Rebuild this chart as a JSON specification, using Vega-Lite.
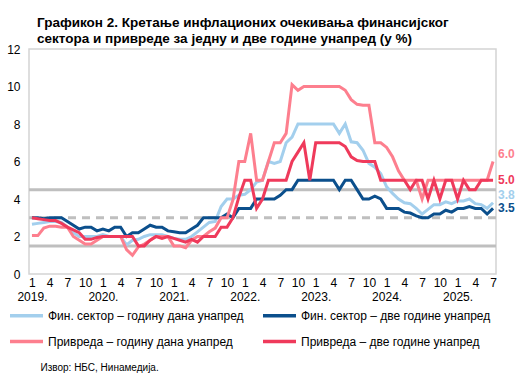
{
  "$schema": "https://vega.github.io/schema/vega-lite/v6.json",
  "width": 467,
  "height": 225,
  "autosize": "none",
  "padding": {"left": 29, "top": 49, "right": 24, "bottom": 101},
  "config": {
    "font": "Liberation Sans",
    "view": {"stroke": "#d4d4d4", "strokeWidth": 1.5}
  },
  "title": {
    "text": ["Графикон 2. Кретање инфлационих очекивања финансијског", "сектора и привреде за једну и две године унапред (у %)"],
    "anchor": "start",
    "frame": "group",
    "dx": 8,
    "offset": -2,
    "fontSize": 13.5,
    "fontWeight": "bold",
    "lineHeight": 16,
    "color": "#000000"
  },
  "resolve": {"axis": {"y": "independent"}},
  "data": {
    "values": [
      {"d": "2019-01", "fy": 2.65, "fd": 3.0, "py": 2.05, "pd": 3.0},
      {"d": "2019-02", "fy": 2.7, "fd": 3.0, "py": 2.05, "pd": 2.95},
      {"d": "2019-03", "fy": 2.75, "fd": 2.95, "py": 2.45, "pd": 2.9},
      {"d": "2019-04", "fy": 2.8, "fd": 3.0, "py": 2.55, "pd": 2.85},
      {"d": "2019-05", "fy": 2.8, "fd": 3.0, "py": 2.55, "pd": 2.85},
      {"d": "2019-06", "fy": 2.75, "fd": 3.0, "py": 2.5, "pd": 2.7},
      {"d": "2019-07", "fy": 2.5, "fd": 2.8, "py": 2.5, "pd": 2.5},
      {"d": "2019-08", "fy": 2.2, "fd": 2.6, "py": 2.0, "pd": 2.35},
      {"d": "2019-09", "fy": 2.0, "fd": 2.4, "py": 1.8, "pd": 2.2},
      {"d": "2019-10", "fy": 2.0, "fd": 2.5, "py": 1.6, "pd": 1.85},
      {"d": "2019-11", "fy": 2.0, "fd": 2.5, "py": 1.6, "pd": 1.85},
      {"d": "2019-12", "fy": 2.0, "fd": 2.3, "py": 1.8, "pd": 1.95},
      {"d": "2020-01", "fy": 2.1, "fd": 2.4, "py": 2.0, "pd": 2.0},
      {"d": "2020-02", "fy": 2.0, "fd": 2.3, "py": 2.0, "pd": 2.0},
      {"d": "2020-03", "fy": 2.0, "fd": 2.5, "py": 2.0, "pd": 2.0},
      {"d": "2020-04", "fy": 2.0, "fd": 2.5, "py": 2.0, "pd": 2.0},
      {"d": "2020-05", "fy": 1.55, "fd": 2.0, "py": 1.3, "pd": 2.0},
      {"d": "2020-06", "fy": 1.8, "fd": 2.2, "py": 1.0, "pd": 2.0},
      {"d": "2020-07", "fy": 1.85, "fd": 2.2, "py": 1.45, "pd": 1.5},
      {"d": "2020-08", "fy": 2.0, "fd": 2.4, "py": 1.6, "pd": 1.5},
      {"d": "2020-09", "fy": 2.1, "fd": 2.6, "py": 1.8, "pd": 1.8},
      {"d": "2020-10", "fy": 2.1, "fd": 2.5, "py": 2.0, "pd": 2.0},
      {"d": "2020-11", "fy": 2.1, "fd": 2.5, "py": 2.0, "pd": 1.9},
      {"d": "2020-12", "fy": 2.0, "fd": 2.3, "py": 2.0, "pd": 2.0},
      {"d": "2021-01", "fy": 1.9, "fd": 2.25, "py": 1.5, "pd": 1.9},
      {"d": "2021-02", "fy": 1.85, "fd": 2.2, "py": 1.5, "pd": 1.8},
      {"d": "2021-03", "fy": 1.85, "fd": 2.2, "py": 1.4, "pd": 1.7},
      {"d": "2021-04", "fy": 2.0, "fd": 2.4, "py": 1.8, "pd": 1.85},
      {"d": "2021-05", "fy": 2.25, "fd": 2.6, "py": 2.0, "pd": 1.7},
      {"d": "2021-06", "fy": 2.5, "fd": 3.0, "py": 2.0, "pd": 2.0},
      {"d": "2021-07", "fy": 2.75, "fd": 3.0, "py": 2.25, "pd": 2.0},
      {"d": "2021-08", "fy": 2.8, "fd": 3.0, "py": 2.45, "pd": 2.0},
      {"d": "2021-09", "fy": 3.6, "fd": 3.0, "py": 3.0, "pd": 2.5},
      {"d": "2021-10", "fy": 4.0, "fd": 3.2, "py": 3.0, "pd": 2.5},
      {"d": "2021-11", "fy": 4.0, "fd": 3.0, "py": 3.95, "pd": 3.0},
      {"d": "2021-12", "fy": 4.2, "fd": 3.5, "py": 6.0, "pd": 4.1},
      {"d": "2022-01", "fy": 4.25, "fd": 3.5, "py": 6.0, "pd": 5.0},
      {"d": "2022-02", "fy": 4.5, "fd": 3.5, "py": 7.5, "pd": 5.0},
      {"d": "2022-03", "fy": 4.9, "fd": 4.0, "py": 5.0, "pd": 3.5},
      {"d": "2022-04", "fy": 5.0, "fd": 4.0, "py": 5.0, "pd": 4.0},
      {"d": "2022-05", "fy": 6.0, "fd": 4.0, "py": 6.0, "pd": 5.0},
      {"d": "2022-06", "fy": 5.9, "fd": 4.0, "py": 7.0, "pd": 5.0},
      {"d": "2022-07", "fy": 6.0, "fd": 4.2, "py": 7.0, "pd": 5.0},
      {"d": "2022-08", "fy": 7.0, "fd": 4.5, "py": 7.5, "pd": 5.0},
      {"d": "2022-09", "fy": 7.3, "fd": 4.5, "py": 10.1, "pd": 6.0},
      {"d": "2022-10", "fy": 8.0, "fd": 5.0, "py": 9.8, "pd": 6.5},
      {"d": "2022-11", "fy": 8.0, "fd": 5.0, "py": 10.0, "pd": 7.0},
      {"d": "2022-12", "fy": 8.0, "fd": 5.0, "py": 10.0, "pd": 5.0},
      {"d": "2023-01", "fy": 8.0, "fd": 5.0, "py": 10.0, "pd": 7.0},
      {"d": "2023-02", "fy": 8.0, "fd": 5.0, "py": 10.0, "pd": 7.0},
      {"d": "2023-03", "fy": 8.0, "fd": 5.0, "py": 10.0, "pd": 7.0},
      {"d": "2023-04", "fy": 8.0, "fd": 5.0, "py": 10.0, "pd": 7.0},
      {"d": "2023-05", "fy": 7.5, "fd": 4.5, "py": 10.0, "pd": 7.0},
      {"d": "2023-06", "fy": 8.0, "fd": 5.0, "py": 9.8, "pd": 6.8},
      {"d": "2023-07", "fy": 7.05, "fd": 5.0, "py": 9.3, "pd": 6.25},
      {"d": "2023-08", "fy": 7.0, "fd": 4.5, "py": 9.05, "pd": 6.05},
      {"d": "2023-09", "fy": 6.6, "fd": 4.0, "py": 9.0, "pd": 6.0},
      {"d": "2023-10", "fy": 5.9, "fd": 4.0, "py": 9.0, "pd": 6.0},
      {"d": "2023-11", "fy": 5.7, "fd": 4.15, "py": 7.0, "pd": 6.0},
      {"d": "2023-12", "fy": 5.35, "fd": 4.0, "py": 7.0, "pd": 5.0},
      {"d": "2024-01", "fy": 4.65, "fd": 3.5, "py": 6.75, "pd": 5.0},
      {"d": "2024-02", "fy": 4.3, "fd": 3.5, "py": 6.25, "pd": 5.0},
      {"d": "2024-03", "fy": 4.0, "fd": 3.5, "py": 5.5, "pd": 5.0},
      {"d": "2024-04", "fy": 3.8, "fd": 3.3, "py": 5.0, "pd": 5.0},
      {"d": "2024-05", "fy": 3.75, "fd": 3.25, "py": 5.0, "pd": 4.5},
      {"d": "2024-06", "fy": 3.5, "fd": 3.1, "py": 5.0, "pd": 5.0},
      {"d": "2024-07", "fy": 3.2, "fd": 3.0, "py": 4.0, "pd": 5.0},
      {"d": "2024-08", "fy": 3.45, "fd": 3.0, "py": 5.0, "pd": 4.0},
      {"d": "2024-09", "fy": 3.7, "fd": 3.2, "py": 5.0, "pd": 5.0},
      {"d": "2024-10", "fy": 3.7, "fd": 3.2, "py": 5.0, "pd": 4.0},
      {"d": "2024-11", "fy": 3.85, "fd": 3.4, "py": 5.0, "pd": 5.0},
      {"d": "2024-12", "fy": 3.75, "fd": 3.3, "py": 5.0, "pd": 5.0},
      {"d": "2025-01", "fy": 3.9, "fd": 3.5, "py": 5.0, "pd": 4.0},
      {"d": "2025-02", "fy": 3.9, "fd": 3.5, "py": 5.0, "pd": 5.0},
      {"d": "2025-03", "fy": 4.0, "fd": 3.6, "py": 5.0, "pd": 4.5},
      {"d": "2025-04", "fy": 3.75, "fd": 3.5, "py": 5.0, "pd": 4.5},
      {"d": "2025-05", "fy": 3.7, "fd": 3.5, "py": 5.0, "pd": 5.0},
      {"d": "2025-06", "fy": 3.5, "fd": 3.2, "py": 5.0, "pd": 5.0},
      {"d": "2025-07", "fy": 3.8, "fd": 3.5, "py": 6.0, "pd": 5.0}
    ]
  },
  "layer": [
    {
      "data": {"values": [{"ref": 1.5}, {"ref": 4.5}]},
      "mark": {"type": "rule", "color": "#bfbfbf", "strokeWidth": 3},
      "encoding": {"y": {"field": "ref", "type": "quantitative", "scale": {"domain": [0, 12], "nice": false}, "axis": null}}
    },
    {
      "data": {"values": [{"ref": 3.0}]},
      "mark": {"type": "rule", "color": "#bfbfbf", "strokeWidth": 3, "strokeDash": [8, 6]},
      "encoding": {"y": {"field": "ref", "type": "quantitative", "axis": null}}
    },
    {
      "transform": [{"fold": ["fy", "fd", "py", "pd"], "as": ["s", "v"]}],
      "mark": {"type": "line", "strokeWidth": 3, "strokeJoin": "miter"},
      "encoding": {
        "x": {
          "field": "d",
          "type": "ordinal",
          "sort": null,
          "scale": {"type": "point", "padding": 0.5},
          "axis": {
            "title": "Извор: НБС, Нинамедија.",
            "titleFontSize": 10,
            "titleFontWeight": "normal",
            "titleColor": "#000000",
            "titleAnchor": "start",
            "titleAlign": "left",
            "titleX": 11,
            "titleY": 93,
            "titleBaseline": "middle",
            "labelAngle": 0,
            "labelOverlap": false,
            "labelFontSize": 12,
            "labelColor": "#000000",
            "labelPadding": 3,
            "labelLineHeight": 14,
            "labelBaseline": "top",
            "ticks": false,
            "domain": false,
            "labelExpr": "(toNumber(slice(datum.value,5))-1)%3==0 ? (toNumber(slice(datum.value,5))==1 ? ['1', slice(datum.value,0,4)+'.'] : [toString(toNumber(slice(datum.value,5))), '']) : ''"
          }
        },
        "y": {
          "field": "v",
          "type": "quantitative",
          "scale": {"domain": [0, 12], "nice": false},
          "axis": {
            "title": null,
            "values": [0, 2, 4, 6, 8, 10, 12],
            "tickCount": 7,
            "labelOverlap": false,
            "grid": false,
            "ticks": false,
            "domain": false,
            "labelFontSize": 12,
            "labelColor": "#000000",
            "labelPadding": 9
          }
        },
        "color": {
          "field": "s",
          "type": "nominal",
          "scale": {"domain": ["fy", "fd", "py", "pd"], "range": ["#a3cfed", "#0b4f8c", "#fd7f8e", "#ef3a5b"]},
          "legend": {
            "title": null,
            "orient": "none",
            "legendX": -21,
            "legendY": 248,
            "columns": 2,
            "direction": "horizontal",
            "symbolType": "stroke",
            "symbolSize": 1089,
            "symbolStrokeWidth": 3.5,
            "labelFontSize": 12,
            "labelColor": "#000000",
            "labelOffset": 3,
            "rowPadding": -3,
            "columnPadding": 12,
            "labelLimit": 300,
            "labelExpr": "{'fy':'Фин. сектор – годину дана унапред','fd':'Фин. сектор – две године унапред','py':'Привреда – годину дана унапред','pd':'Привреда – две године унапред'}[datum.label]"
          }
        }
      }
    },
    {
      "transform": [{"fold": ["fy", "fd", "py", "pd"], "as": ["s", "v"]}, {"filter": "datum.d == '2025-07' && (datum.s == 'fd' || datum.s == 'pd')"}],
      "mark": {"type": "text", "align": "left", "dx": 5, "fontSize": 12, "fontWeight": "bold", "baseline": "middle"},
      "encoding": {
        "x": {"field": "d", "type": "ordinal", "sort": null},
        "y": {"field": "v", "type": "quantitative", "axis": null},
        "text": {"field": "v", "type": "quantitative", "format": ".1f"},
        "color": {"field": "s", "type": "nominal"}
      }
    },
    {
      "transform": [{"fold": ["fy", "fd", "py", "pd"], "as": ["s", "v"]}, {"filter": "datum.d == '2025-07' && (datum.s == 'fy' || datum.s == 'py')"}],
      "mark": {"type": "text", "align": "left", "dx": 5, "dy": -8, "fontSize": 12, "fontWeight": "bold", "baseline": "middle"},
      "encoding": {
        "x": {"field": "d", "type": "ordinal", "sort": null},
        "y": {"field": "v", "type": "quantitative", "axis": null},
        "text": {"field": "v", "type": "quantitative", "format": ".1f"},
        "color": {"field": "s", "type": "nominal"}
      }
    }
  ]
}
